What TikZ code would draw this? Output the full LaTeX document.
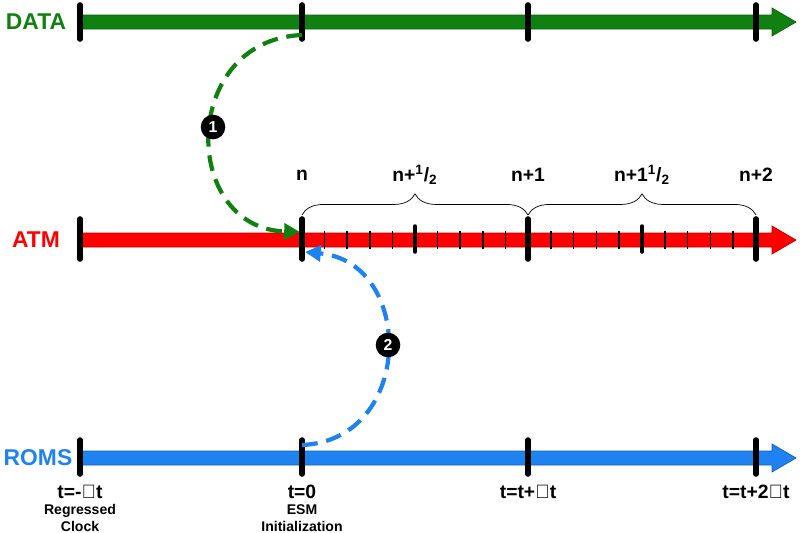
\documentclass[tikz,border=0pt]{standalone}
\usepackage{fontspec}
\setmainfont{Liberation Sans}
\usetikzlibrary{arrows.meta,decorations.pathreplacing}
\definecolor{dgreen}{RGB}{16,128,16}
\definecolor{rblue}{RGB}{30,130,240}
\begin{document}
\begin{tikzpicture}[x=0.02cm,y=-0.02cm,
  lbl/.style={font=\bfseries\fontsize{11}{13}\selectfont},
  sub/.style={font=\bfseries\fontsize{8}{9.5}\selectfont,align=center},
  big/.style={font=\bfseries\fontsize{13}{15}\selectfont},
  major/.style={line width=3.2pt,line cap=round,black},
  minor/.style={line width=1pt,black},
  mid/.style={line width=2pt,line cap=round,black},
  num/.style={circle,fill=black,text=white,inner sep=1pt,minimum size=14pt,font=\bfseries\fontsize{9}{10}\selectfont},
  conn/.style={line width=2.4pt,dash pattern=on 9pt off 5pt,-{Triangle[length=9pt,width=9pt]}}]
\useasboundingbox (0,0) rectangle (800,532);
\newcommand\timebar[2]{\fill[#2,draw=#2!75!black,line width=0.4pt] (80,#1-7) -- (772,#1-7) -- (772,#1-14) -- (796,#1) -- (772,#1+14) -- (772,#1+7) -- (80,#1+7) -- cycle;}
\timebar{22}{dgreen}
\timebar{240}{red}
\timebar{458}{rblue}
\node[big,text=dgreen] (data) at (36,22) {DATA};
\node[big,text=red] (atm) at (36,240) {ATM};
\node[big,text=rblue] (roms) at (38,458) {ROMS};
\foreach \x in {80,302,528,756}{
  \draw[major] (\x,5) -- (\x,39);
  \draw[major] (\x,219) -- (\x,259);
  \draw[major] (\x,440) -- (\x,474);}
\foreach \i in {1,...,9}{
  \draw[minor] ({302+22.6*\i},231) -- ({302+22.6*\i},249);
  \draw[minor] ({528+22.8*\i},231) -- ({528+22.8*\i},249);}
\draw[mid] (415,226) -- (415,252);
\draw[mid] (642,226) -- (642,252);
\coordinate (bn) at (302,215);
\coordinate (bn1) at (528,215);
\coordinate (bn2) at (756,215);
\draw[decorate,decoration={brace,amplitude=12pt}] (bn) -- (bn1);
\draw[decorate,decoration={brace,amplitude=12pt}] (bn1) -- (bn2);
\node[lbl] (ln) at (302,175) {n};
\node[lbl] (lnh) at (415,175) {n+\textsuperscript{1}/\textsubscript{2}};
\node[lbl] (ln1) at (528,175) {n+1};
\node[lbl] (ln1h) at (642,175) {n+1\textsuperscript{1}/\textsubscript{2}};
\node[lbl] (ln2) at (756,175) {n+2};
\node[lbl] (t0) at (80,492) {t=-$\mathbf{\Delta}$t};
\node[lbl] (t1) at (302,492) {t=0};
\node[lbl] (t2) at (528,492) {t=t+$\mathbf{\Delta}$t};
\node[lbl] (t3) at (756,492) {t=t+2$\mathbf{\Delta}$t};
\node[sub] (s0) at (80,518) {Regressed\\Clock};
\node[sub] (s1) at (302,518) {ESM\\Initialization};
\coordinate (gs) at (302,35);
\coordinate (ge) at (300,232);
\coordinate (bs) at (302,445);
\coordinate (be) at (305,252);
\draw[conn,dgreen] (gs) .. controls (180,40) and (180,228) .. (ge);
\draw[conn,rblue] (bs) .. controls (415,440) and (415,262) .. (be);
\node[num] (c1) at (213,127) {1};
\node[num] (c2) at (388,345) {2};
\end{tikzpicture}
\end{document}
